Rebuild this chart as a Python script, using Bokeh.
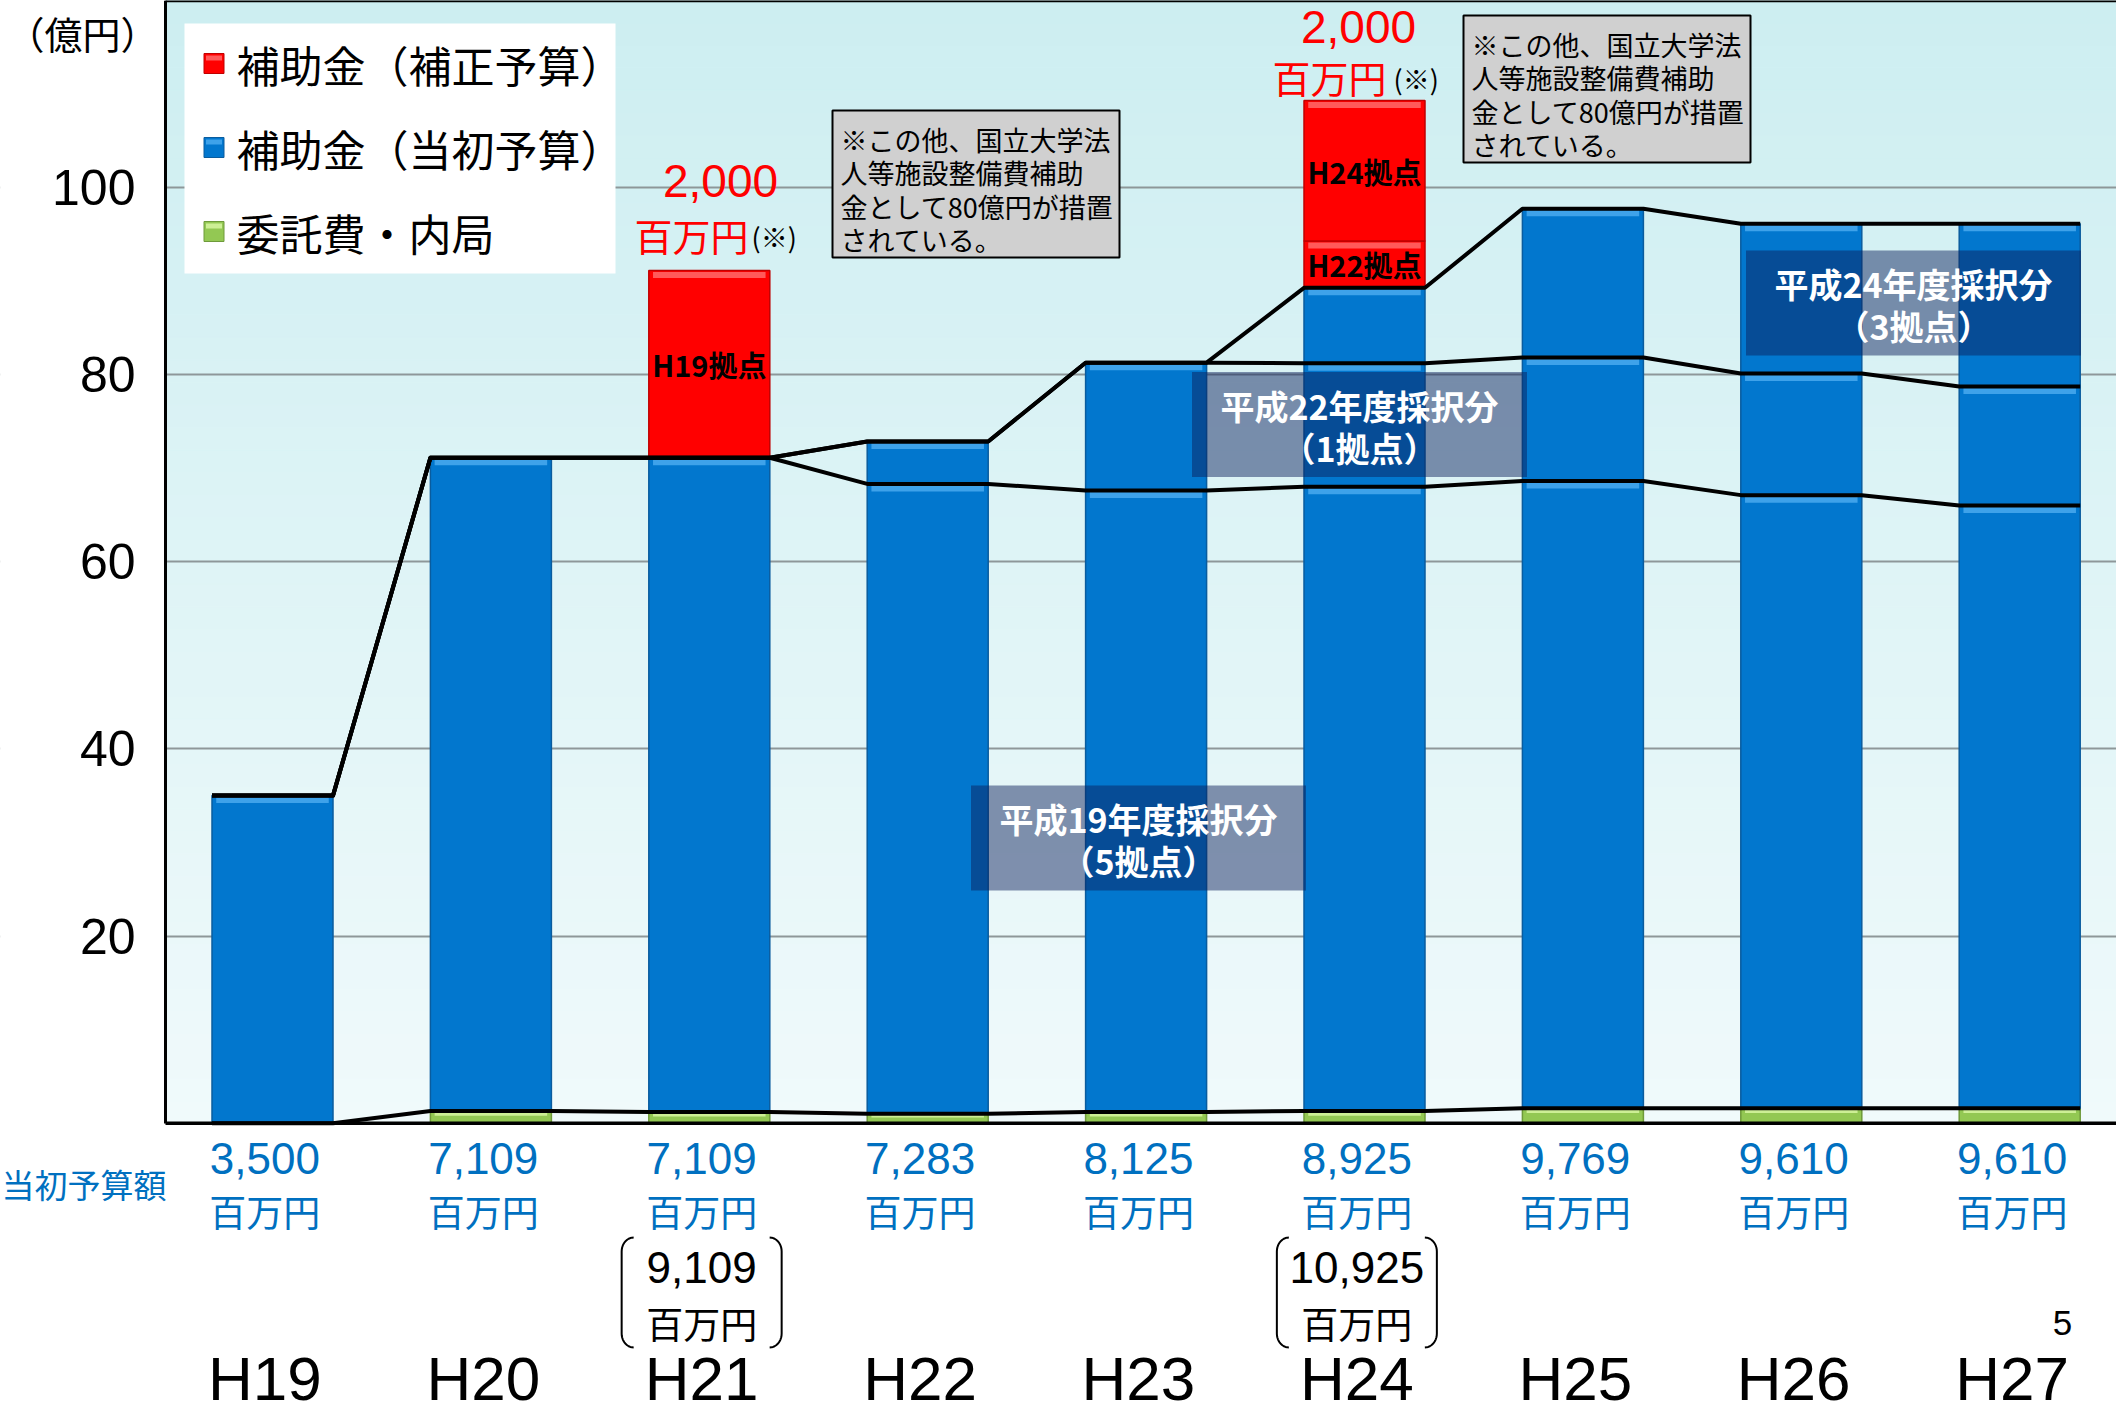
import numpy as np
from bokeh.plotting import figure
from bokeh.models import Range1d, FixedTicker
from bokeh.core.properties import value
from bokeh.embed import file_html
from bokeh.resources import INLINE

# ---------------- data ----------------
years = ["H19", "H20", "H21", "H22", "H23", "H24", "H25", "H26", "H27"]
initial_budget = [3500, 7109, 7109, 7283, 8125, 8925, 9769, 9610, 9610]   # 百万円 (当初予算額)
itaku = [0.0, 1.3, 1.2, 1.0, 1.2, 1.3, 1.6, 1.6, 1.6]                       # 億円 委託費・内局
h19_cohort_top = [35.0, 71.09, 71.09, 68.3, 67.6, 68.0, 68.6, 67.1, 66.0]   # 億円 平成19年度採択分 上端
h22_cohort_top = [35.0, 71.09, 71.09, 72.83, 81.25, 81.2, 81.8, 80.1, 78.7] # 億円 平成22年度採択分 上端
supp_h19 = [0, 0, 20.0, 0, 0, 0, 0, 0, 0]      # 億円 補正 H19拠点
supp_h22 = [0, 0, 0, 0, 0, 5.0, 0, 0, 0]       # 億円 補正 H22拠点
supp_h24 = [0, 0, 0, 0, 0, 15.0, 0, 0, 0]      # 億円 補正 H24拠点
supp_amount = {"H21": 2000, "H24": 2000}        # 百万円
with_supp_total = {"H21": 9109, "H24": 10925}   # 百万円
y_ticks = [20, 40, 60, 80, 100]
cohort_notes = [("平成19年度採択分", "（5拠点）"), ("平成22年度採択分", "（1拠点）"), ("平成24年度採択分", "（3拠点）")]
note_lines = ["※この他、国立大学法", "人等施設整備費補助", "金として80億円が措置", "されている。"]
legend_labels = ["補助金（補正予算）", "補助金（当初予算）", "委託費・内局"]

# ---------------- layout helpers (page pixels -> data) ----------------
W, H = 2116, 1412
PX0, PXS = 162.8, 218.4      # page x of category origin, px per category
PY0, PYS = 1122.7, 9.36      # page y of value 0, px per 億円


def dx(px):
    return (px - PX0) / PXS


def dy(py):
    return (PY0 - py) / PYS


X0, X1 = dx(0), dx(W)
Y0, Y1 = dy(H), dy(0)
AX = dx(165)                 # y-axis position
BW = 121 / PXS

JP = "Noto Sans CJK JP"
LAT = "Liberation Sans"
BLUE, BLUE_L, BLUE_E = "#0277CE", "#3EA2EA", "#0A5C9E"
RED, RED_L, RED_E = "#FF0000", "#FF5A5A", "#C00000"
GRN, GRN_L, GRN_E = "#93C853", "#CDEF95", "#6E9A3A"
LBLUE = "#0070C0"

p = figure(width=W, height=H, output_backend="svg", toolbar_location=None, tools="",
           x_range=Range1d(X0, X1), y_range=Range1d(Y0, Y1), x_axis_location=None,
           min_border_left=0, min_border_right=0, min_border_top=0, min_border_bottom=0,
           background_fill_color="white", border_fill_color="white", outline_line_color=None,
           title=None)

# plot-area gradient background
nb = 50
edges = np.linspace(0, Y1, nb + 1)
c_bot = np.array([0xF0, 0xFA, 0xFB]); c_top = np.array([0xCD, 0xEE, 0xF1])
cols = []
for k in range(nb):
    t = (k + 0.5) / nb
    c = c_bot * (1 - t) + c_top * t
    cols.append("#%02x%02x%02x" % tuple(int(round(v)) for v in c))
p.quad(left=AX, right=X1 + 0.1, bottom=edges[:-1], top=edges[1:], fill_color=cols, line_color=cols,
       line_width=1, level="image")

# y axis at fixed location, grid
yax = p.yaxis[0]
yax.fixed_location = AX
yax.ticker = FixedTicker(ticks=y_ticks)
yax.bounds = (0, Y1)
yax.major_label_text_font = LAT
yax.major_label_text_font_size = "50px"
yax.major_label_text_color = "black"
yax.major_tick_out = 0
yax.major_tick_in = 0
yax.minor_tick_out = 0
yax.minor_tick_in = 0
yax.major_label_standoff = 30
yax.axis_line_width = 3
yax.axis_line_color = "black"
p.xgrid.visible = False
p.ygrid.ticker = FixedTicker(ticks=y_ticks)
p.ygrid.grid_line_color = "#8E9799"
p.ygrid.grid_line_width = 2

# hide grid left of the axis
p.quad(left=[X0 - 0.2], right=[AX], bottom=[Y0 - 5], top=[Y1 + 5], fill_color="white", line_color=None)

# ---------------- bars ----------------
n = len(years)
xs = np.arange(n) + 0.5
total = np.array(initial_budget) / 100.0
it = np.array(itaku, dtype=float)
t19 = np.array(h19_cohort_top)
t22 = np.array(h22_cohort_top)


def segs(pairs):
    sx, sb, st = [], [], []
    for lo, hi in pairs:
        for i in range(n):
            if hi[i] - lo[i] > 0.05:
                sx.append(xs[i]); sb.append(lo[i]); st.append(hi[i])
    return np.array(sx), np.array(sb), np.array(st)


def draw_stack(sx, sb, st, main, light, edge, strip):
    r = p.vbar(x=sx, width=BW, bottom=sb, top=st, fill_color=main, line_color=edge, line_width=1.5)
    h = np.minimum(strip, (st - sb) * 0.4)
    p.vbar(x=sx, width=BW * 0.93, bottom=st - h, top=st - 0.15, fill_color=light, line_color=None)
    return r

gx, gb, gt = segs([(np.zeros(n), it)])
draw_stack(gx, gb, gt, GRN, GRN_L, GRN_E, 0.5)
bx, bb, bt = segs([(it, t19), (t19, t22), (t22, total)])
draw_stack(bx, bb, bt, BLUE, BLUE_L, BLUE_E, 0.8)
s19 = np.array(supp_h19, float); s22 = np.array(supp_h22, float); s24 = np.array(supp_h24, float)
r1b = total; r1t = total + s19
r2b = r1t; r2t = r2b + s22
r3b = r2t; r3t = r3b + s24
rx, rb, rt = segs([(r1b, r1t), (r2b, r2t), (r3b, r3t)])
draw_stack(rx, rb, rt, RED, RED_L, RED_E, 0.8)

for name, lo, hi in [("H19拠点", r1b, r1t), ("H22拠点", r2b, r2t), ("H24拠点", r3b, r3t)]:
    for i in range(n):
        if hi[i] - lo[i] > 0.05:
            p.text(x=[xs[i]], y=[(lo[i] + hi[i]) / 2], text=[name], text_font=value(JP),
                   text_font_style="bold", text_font_size="29px", text_color="black",
                   text_align="center", text_baseline="middle")

# cohort boundary lines
for series in [it, t19, t22, total]:
    lx, ly = [], []
    for i in range(n):
        lx += [xs[i] - BW / 2, xs[i] + BW / 2]
        ly += [series[i], series[i]]
    p.line(lx, ly, line_color="black", line_width=4, line_join="round")

# frame lines (bottom axis, top border)
p.segment(x0=[AX, AX], y0=[0, Y1], x1=[X1 + 0.1, X1 + 0.1], y1=[0, Y1], line_color="black",
          line_width=3.5)

# ---------------- cohort boxes ----------------
for (cpx, cpy), (l1, l2) in zip([(1138, 837.5), (1359, 424), (1913, 302.5)], cohort_notes):
    p.rect(x=[dx(cpx)], y=[dy(cpy)], width=335 / PXS, height=105 / PYS, fill_color="#0A1E5A",
           fill_alpha=0.48, line_color=None)
    p.text(x=[dx(cpx)] * 2, y=[dy(cpy - 19.5), dy(cpy + 22.5)], text=[l1, l2], text_font=value(JP),
           text_font_style="bold", text_font_size="34px", text_color="white",
           text_align="center", text_baseline="middle")

# ---------------- note boxes ----------------
for (bl, br, btop, bbot) in [(832, 1119, 110, 257), (1463, 1750, 15, 162)]:
    p.quad(left=[dx(bl)], right=[dx(br)], top=[dy(btop)], bottom=[dy(bbot)], fill_color="#D0D0D0",
           line_color="black", line_width=2)
    ly = [dy(btop + 29 + 33.3 * k) for k in range(len(note_lines))]
    p.text(x=[dx(bl + 8)] * len(note_lines), y=ly, text=note_lines, text_font=value(JP),
           text_font_size="27px", text_color="black", text_align="left", text_baseline="middle")

# ---------------- supplementary amount labels ----------------
supp_pos = {"H21": ((720, 180), (748, 234), (751, 236)),
            "H24": ((1358, 26), (1386, 76), (1393, 78))}
for yr, amt in supp_amount.items():
    (ax_, ay_), (mx_, my_), (kx_, ky_) = supp_pos[yr]
    p.text(x=[dx(ax_)], y=[dy(ay_)], text=[f"{amt:,}"], text_font=value(LAT),
           text_font_size="46px", text_color="#FF0000", text_align="center", text_baseline="middle")
    p.text(x=[dx(mx_)], y=[dy(my_)], text=["百万円"], text_font=value(JP),
           text_font_size="38px", text_color="#FF0000", text_align="right", text_baseline="middle")
    p.text(x=[dx(kx_)], y=[dy(ky_)], text=["(※)"], text_font=value(JP),
           text_font_size="27px", text_color="black", text_align="left", text_baseline="middle")

# ---------------- labels under the axis ----------------
LX = xs - 0.035
p.text(x=LX, y=[dy(1158)] * n, text=[f"{v:,}" for v in initial_budget], text_font=value(LAT),
       text_font_size="44px", text_color=LBLUE, text_align="center", text_baseline="middle")
p.text(x=LX, y=[dy(1210)] * n, text=["百万円"] * n, text_font=value(JP),
       text_font_size="37px", text_color=LBLUE, text_align="center", text_baseline="middle")

for yr, amt in with_supp_total.items():
    i = years.index(yr)
    cx = LX[i]
    p.text(x=[cx], y=[dy(1267)], text=[f"{amt:,}"], text_font=value(LAT), text_font_size="44px",
           text_color="black", text_align="center", text_baseline="middle")
    p.text(x=[cx], y=[dy(1322)], text=["百万円"], text_font=value(JP), text_font_size="37px",
           text_color="black", text_align="center", text_baseline="middle")
    hw, rxx, ryy, yt, yb = 80 / PXS, 12 / PXS, 14 / PYS, dy(1237), dy(1347)
    th = np.linspace(0, np.pi / 2, 12)
    for sgn in (-1, 1):
        x0 = cx + sgn * hw
        top_arc_x = x0 - sgn * rxx + sgn * rxx * np.sin(th)
        top_arc_y = yt - ryy + ryy * np.cos(th)
        bot_arc_x = top_arc_x[::-1]
        bot_arc_y = (yb + ryy - ryy * np.cos(th))[::-1]
        p.line(np.concatenate([top_arc_x, bot_arc_x]), np.concatenate([top_arc_y, bot_arc_y]),
               line_color="black", line_width=2)

p.text(x=LX, y=[dy(1378)] * n, text=years, text_font=value(LAT), text_font_size="62px",
       text_color="black", text_align="center", text_baseline="middle")
p.text(x=[dx(2062)], y=[dy(1322)], text=["5"], text_font=value(LAT), text_font_size="35px",
       text_color="black", text_align="center", text_baseline="middle")

p.text(x=[dx(166)], y=[dy(1183)], text=["当初予算額"], text_font=value(JP),
       text_font_size="33px", text_color=LBLUE, text_align="right", text_baseline="middle")
p.text(x=[dx(158)], y=[dy(32)], text=["（億円）"], text_font=value(JP),
       text_font_size="38px", text_color="black", text_align="right", text_baseline="middle")

# ---------------- legend ----------------
p.quad(left=[dx(184)], right=[dx(615)], top=[dy(23)], bottom=[dy(273)], fill_color="white",
       line_color=None)
leg_y = [dy(63 + 84 * k) for k in range(3)]
for k, (c, cl, ce) in enumerate([(RED, RED_L, RED_E), (BLUE, BLUE_L, BLUE_E), (GRN, GRN_L, GRN_E)]):
    p.rect(x=[dx(213.5)], y=[leg_y[k]], width=20, height=20, width_units="screen",
           height_units="screen", fill_color=c, line_color=ce, line_width=1)
    p.rect(x=[dx(213.5)], y=[leg_y[k] + 5.5 / PYS], width=16, height=5, width_units="screen",
           height_units="screen", fill_color=cl, line_color=None)
p.text(x=[dx(236)] * 3, y=leg_y, text=legend_labels, text_font=value(JP), text_font_size="43px",
       text_color="black", text_align="left", text_baseline="middle")

open("out.html", "w").write(file_html(p, INLINE))
